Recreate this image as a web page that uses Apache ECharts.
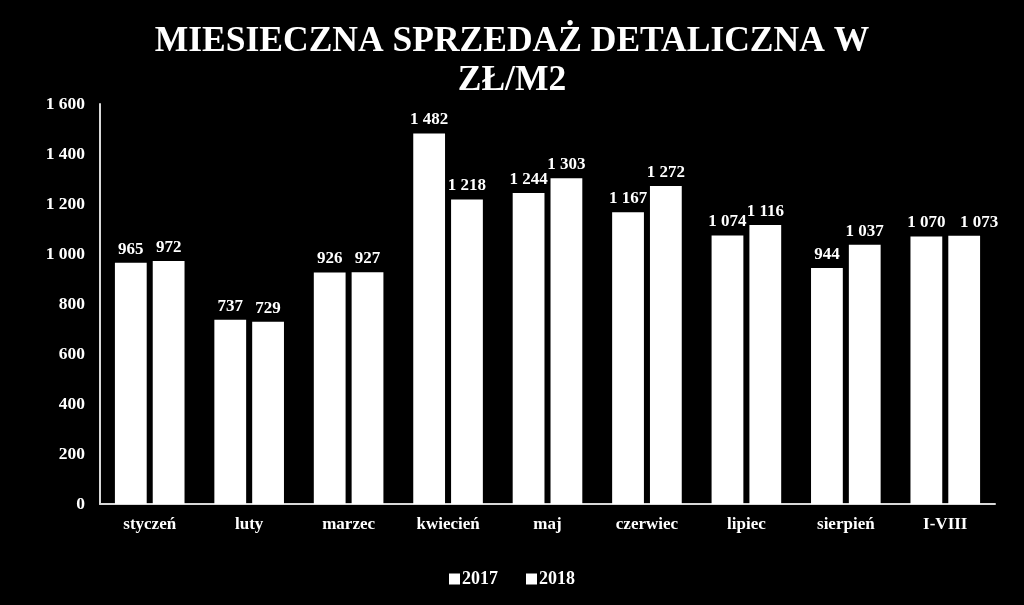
<!DOCTYPE html>
<html>
<head>
<meta charset="utf-8">
<script src="https://cdn.jsdelivr.net/npm/echarts@6/dist/echarts.min.js"></script>
<style>
  html, body { margin: 0; padding: 0; background: #000; }
  #chart { width: 1024px; height: 605px; }
</style>
</head>
<body>
<div id="chart"></div>
<script>
var categories = ['styczeń', 'luty', 'marzec', 'kwiecień', 'maj', 'czerwiec', 'lipiec', 'sierpień', 'I-VIII'];
var values2017 = [965, 737, 926, 1482, 1244, 1167, 1074, 944, 1070];
var values2018 = [972, 729, 927, 1218, 1303, 1272, 1116, 1037, 1073];
var yTicks = { min: 0, max: 1600, interval: 200 };

var font = '"Liberation Serif", "Times New Roman", serif';

// 1 600 style number format
function fmt(v) {
  return String(v).replace(/\B(?=(\d{3})+(?!\d))/g, ' ');
}

var chart = echarts.init(document.getElementById('chart'));

var barLabel = {
  show: true,
  position: 'top',
  distance: 5,
  color: '#fff',
  fontFamily: font,
  fontWeight: 'bold',
  fontSize: 17,
  formatter: function (p) { return fmt(p.value); }
};

// ostatnia etykieta 2018 przesunieta w prawo, zeby nie nachodzila na 2017
var data2018 = values2018.map(function (v, i) {
  if (i === values2018.length - 1) return { value: v, label: { offset: [15, 0] } };
  return v;
});

chart.setOption({
  backgroundColor: '#000',
  textStyle: { fontFamily: font },
  title: {
    text: 'MIESIECZNA SPRZEDAŻ DETALICZNA W\nZŁ/M2',
    left: 'center',
    top: 17,
    textStyle: {
      color: '#fff',
      fontFamily: font,
      fontWeight: 'bold',
      fontSize: 35.5,
      lineHeight: 39
    }
  },
  legend: {
    bottom: 12,
    left: 'center',
    itemWidth: 11,
    itemHeight: 11,
    itemGap: 28,
    icon: 'rect',
    textStyle: {
      color: '#fff', fontFamily: font, fontWeight: 'bold', fontSize: 18,
      padding: [0, 0, 0, -3]
    },
    data: ['2017', '2018']
  },
  grid: { left: 100, right: 29, top: 104, bottom: 101 },
  xAxis: {
    type: 'category',
    data: categories,
    axisLine: { lineStyle: { color: '#d9d9d9', width: 2 } },
    axisTick: { show: false },
    axisLabel: {
      color: '#fff',
      fontFamily: font,
      fontWeight: 'bold',
      fontSize: 17,
      margin: 12
    }
  },
  yAxis: {
    type: 'value',
    min: yTicks.min,
    max: yTicks.max,
    interval: yTicks.interval,
    axisLine: { show: true, lineStyle: { color: '#d9d9d9', width: 2 } },
    axisTick: { show: false },
    splitLine: { show: false },
    axisLabel: {
      color: '#fff',
      fontFamily: font,
      fontWeight: 'bold',
      fontSize: 17.5,
      margin: 15,
      formatter: fmt
    }
  },
  series: [{
    name: '2017',
    type: 'bar',
    data: values2017,
    barGap: '19%',
    barCategoryGap: '30%',
    itemStyle: { color: '#fff' },
    label: barLabel
  }, {
    name: '2018',
    type: 'bar',
    data: data2018,
    itemStyle: { color: '#fff' },
    label: barLabel
  }]
});
</script>
</body>
</html>
